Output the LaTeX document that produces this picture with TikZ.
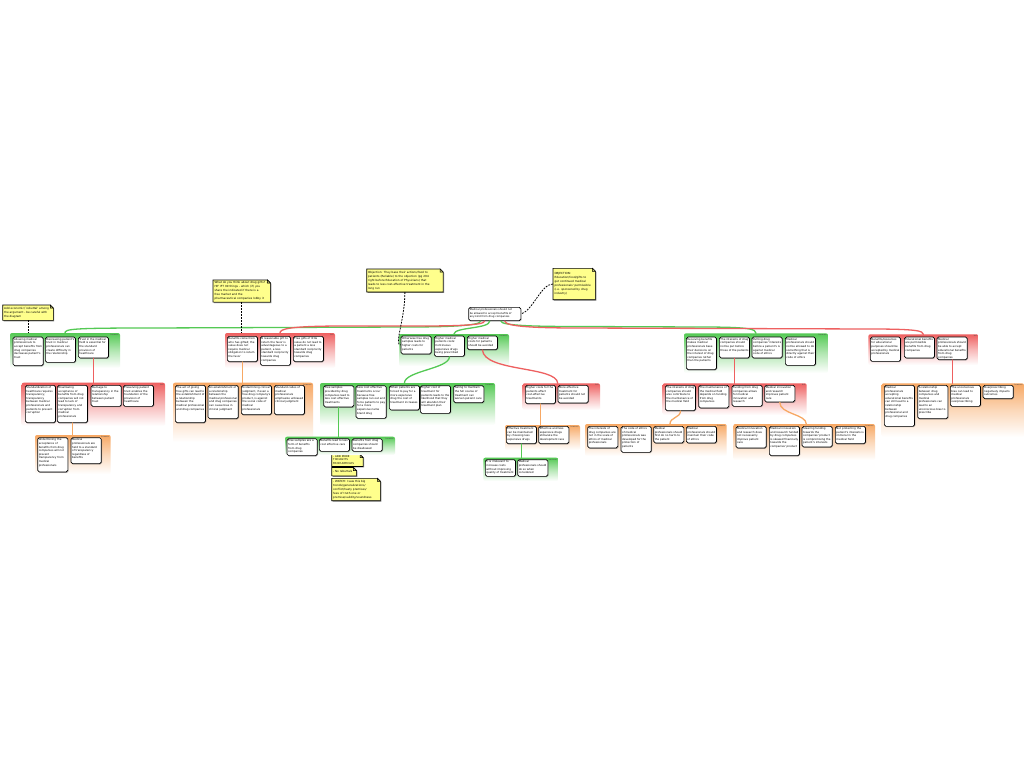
\documentclass[tikz,border=0pt]{standalone}
\usepackage{fontspec}
\newfontfamily\dvs{DejaVu Sans}
\usetikzlibrary{shadows,calc,backgrounds}
\definecolor{rgreen}{RGB}{84,201,84}
\definecolor{rred}{RGB}{238,96,96}
\definecolor{rorange}{RGB}{247,168,100}
\definecolor{notey}{RGB}{255,255,140}
\newcommand\bxfont{\dvs\fontsize{2.7}{3.6}\selectfont}
\newcommand\ntfont{\dvs\fontsize{2.8}{3.95}\selectfont}
\newcommand\lbfont{\dvs\fontsize{1.9}{2.1}\selectfont}
\tikzset{
 box/.style={draw=black, line width=0.7pt, fill=white, rounded corners=1.6pt, inner sep=1.1pt, anchor=north west, font=\bxfont, drop shadow={shadow xshift=0.8pt, shadow yshift=-0.8pt, fill=black!55}},
 grp/.style={rounded corners=2pt, inner sep=0pt, outer sep=0pt, anchor=north west, draw=none},
 glab/.style={font=\lbfont, text=black!70, inner sep=0pt, anchor=north east},
 notetext/.style={inner sep=1.3pt, anchor=north west, align=left, font=\ntfont},
 gline/.style={draw=rgreen, line width=1.3pt, line cap=round},
 rline/.style={draw=rred, line width=1.3pt, line cap=round},
 oline/.style={draw=rorange, line width=1.3pt, line cap=round},
 dline/.style={draw=black, line width=0.8pt, dash pattern=on 1.8pt off 1.2pt},
}
\newcommand\grp[7]{\node[grp, top color=#6, bottom color=white, middle color=#6!45, minimum width={(#4-#2)*1pt}, minimum height={(#5-#3)*1pt}] (#1) at (#2,#3) {};
\node[glab] (#1l) at ([xshift=-1.2pt,yshift=-0.9pt]#1.north east) {#7};}
\newcommand\bx[5]{\node[box] (#1) at (#2,#3) {\parbox[t][\dimexpr#4pt-2.9pt\relax][t]{28pt}{\raggedright #5}};}
\newcommand\nt[6]{%
 \node[notetext, text width=#4pt, minimum height=#5pt] (#1) at (#2,#3) {#6};
 \begin{scope}[on background layer]
  \fill[black!50] ($(#1.north west)+(0.9,0.9)$) -- ($(#1.north east)+(-2.1,0.9)$) -- ($(#1.north east)+(0.9,3.9)$) -- ($(#1.south east)+(0.9,0.9)$) -- ($(#1.south west)+(0.9,0.9)$) -- cycle;
  \filldraw[fill=notey, draw=black, line width=0.6pt] (#1.north west) -- ($(#1.north east)+(-3,0)$) -- ($(#1.north east)+(0,3)$) -- (#1.south east) -- (#1.south west) -- cycle;
  \filldraw[fill=notey!75!black, draw=black, line width=0.5pt] ($(#1.north east)+(-3,0)$) -- ($(#1.north east)+(-3,3)$) -- ($(#1.north east)+(0,3)$) -- cycle;
 \end{scope}}
\begin{document}
\begin{tikzpicture}[x=1pt,y=-1pt]
\begin{scope}[on background layer]
\fill[white] (0,0) rectangle (1024,768);
\end{scope}
\useasboundingbox (0,0) rectangle (1024,768);

% groups
\grp{G1}{10}{333}{120}{368}{rgreen}{because}
\grp{G2}{21.7}{382.7}{165}{426}{rred}{but}
\grp{G3}{35}{435}{110.7}{474}{rorange}{however}
\grp{G4}{225}{333}{335}{368}{rred}{but}
\grp{G5}{173}{382.7}{313}{442}{rorange}{however}
\grp{G6}{320}{383}{495}{425}{rgreen}{because}
\grp{G7}{399}{334}{509}{366}{rgreen}{because}
\grp{G8}{285}{436.7}{395}{455}{rgreen}{because}
\grp{G9}{522.7}{383.3}{600}{410}{rred}{but}
\grp{G10}{505}{425}{580}{450}{rorange}{however}
\grp{G11}{483.3}{457.7}{558.3}{481}{rgreen}{because}
\grp{G12}{684}{333.3}{828}{373}{rgreen}{because}
\grp{G13}{662.7}{383.3}{806.7}{415}{rred}{but}
\grp{G14}{585}{424}{726.7}{456}{rorange}{however}
\grp{G15}{733.3}{424}{875}{460}{rorange}{however}
\grp{G16}{868.3}{334.3}{978.3}{365}{rred}{but}
\grp{G17}{881.7}{383.3}{1024}{437}{rorange}{however}

% root
\node[box] (root) at (468.3,307) {\parbox[t][\dimexpr 14pt-2.9pt\relax][t]{50pt}{\fontsize{2.6}{3.7}\selectfont Medical professionals should not\\ be allowed to accept benefits of\\ any kind from drug companies}};

% boxes
\bx{b1}{12.7}{336.7}{29.3}{Allowing medical professionals to accept benefits from drug companies decreases patient's trust}
\bx{b2}{45}{336.7}{26}{Decreasing patient's trust in medical professionals can create difficulty in the relationship}
\bx{b3}{78}{336.7}{21.6}{Trust in the medical field is essential for the standard provision of healthcare}
\bx{c1}{25}{385}{38}{Standardization of healthcare requires transparency; transparency between medical professionals and patients to prevent corruption}
\bx{c2}{57}{385}{38}{Disallowing acceptance of benefits from drug companies will not lead to lack of transparency and corruption from medical professionals}
\bx{c3}{90.7}{385}{21.7}{Damage to transparency in the relationship between patient trust}
\bx{c4}{123}{385}{21.7}{Preserving patient trust enables the foundation of the provision of healthcare}
\bx{d1}{37.3}{437.3}{35}{Undermining the acceptance of benefits from drug companies will not prevent transparency from medical professionals}
\bx{d2}{70.7}{437.3}{26.7}{Medical professionals are held to a standard of transparency regardless of benefits}
\bx{e1}{227}{336}{26}{Benefits come from who has gifted; the value does not require medical obligation to return the favor}
\bx{e2}{260}{336}{29.7}{A reasonable gift to return the favor is advantageous to a patient, a less standard reciprocity towards drug companies}
\bx{e3}{293}{336}{26}{Free gifts of little value do not lead to a patient a less standard reciprocity towards drug companies}
\bx{f1}{175}{385}{38}{The act of giving free gifts can lead to the establishment of a relationship between the medical professional and drug companies}
\bx{f2}{207.7}{385}{34}{An establishment of a relationship between the medical professional and drug companies can cause bias in clinical judgment}
\bx{f3}{241}{385}{30}{Undermining clinical judgment, if even a free drug company's product, is against the social code of medical professionals}
\bx{f4}{274}{385}{30}{Standard codes of medical professionals emphasize unbiased clinical judgment}
\bx{g1}{323.3}{385.3}{22}{Free samples provided by drug companies lead to less cost effective treatments}
\bx{g2}{355.7}{385.3}{33.4}{Less cost effective treatments occur because free samples run out and force patients to pay for a more expensive name brand drug}
\bx{g3}{389}{385.3}{25}{When patients are forced to pay for a more expensive drug the cost of treatment increases}
\bx{g4}{420}{385.3}{28.4}{Higher cost of treatment for patients leads to the likelihood that they will abandon their treatment plan}
\bx{g5}{453.3}{385.3}{17.7}{Failing to maintain the full course of treatment can worsen patient care}
\bx{h1}{400.7}{335.7}{18.6}{Otherwise free drug samples leads to higher costs for patients}
\bx{h2}{434}{335.7}{21}{Higher medical patients costs: Continuous expensive drugs being prescribed}
\bx{h3}{467}{335.7}{14.3}{Higher medical costs for patients should be avoided}
\bx{i1}{286.7}{438.3}{17.7}{Free samples are a form of benefits from drug companies}
\bx{i2}{319}{438.3}{13.4}{Benefits lead to less cost effective care}
\bx{i3}{351.7}{438.3}{13.4}{Benefits from drug companies should be disallowed}
\bx{j1}{525}{385}{19}{Higher costs for the patients affect cost-effective treatments}
\bx{j2}{557.7}{385}{18.3}{More effective treatment for patients should not be avoided}
\bx{k1}{506}{426}{18}{Effective treatment can be maintained by choosing less expensive drugs}
\bx{k2}{538.3}{426}{18}{Effective and less expensive drugs stimulate the development race}
\bx{l1}{485}{459.3}{17.4}{It is irrelevant to increase costs without improving quality of treatment}
\bx{l2}{517.3}{459.3}{17.4}{Medical professionals should do so when considered}
\bx{m1}{686}{336.7}{33.3}{Receiving benefits makes medical professionals base their decisions on the interest of drug companies rather than the patients}
\bx{m2}{719}{336.7}{21.6}{The interests of drug companies should not be put before those of the patients}
\bx{m3}{751.7}{336.7}{21.6}{Putting drug companies' interests before a patient's is against medical code of ethics}
\bx{m4}{785}{336.7}{29}{Medical professionals should not be allowed to do something that is directly against their code of ethics}
\bx{o1}{665}{385}{26}{The interests of drug companies should also contribute to the maintenance of the medical field}
\bx{o2}{698.3}{385}{23.3}{The maintenance of the medical field depends on funding from drug companies}
\bx{o3}{731.7}{385}{21.7}{Funding from drug companies allows for medical innovation and research}
\bx{o4}{764.3}{385}{17.3}{Medical innovation and research improves patient care}
\bx{p1}{587.3}{426}{22.3}{The interests of drug companies are not in the scale of ethics of medical professionals}
\bx{p2}{620.7}{426}{26.7}{The code of ethics of medical professionals was developed for the protection of patients}
\bx{p3}{653.3}{426}{17.3}{Medical professionals should first do no harm to the patient}
\bx{p4}{686}{426}{17.3}{Medical professionals should maintain their code of ethics}
\bx{q1}{735.7}{426}{22.3}{Medical innovation and research does not necessarily improve patient care}
\bx{q2}{769}{426}{30}{Medical innovation and research funded by drug companies is skewed financially towards the companies' product}
\bx{q3}{801.7}{426}{21.3}{Steering funding towards the companies' product is compromising the patient's interests}
\bx{q4}{835}{426}{18}{Not protecting the patient's interests is immoral in the medical field}
\bx{r1}{870}{336.7}{25}{Benefits/resources for educational purposes should be accepted by medical professionals}
\bx{r2}{904}{336.7}{21.6}{Educational benefits are permissible benefits from drug companies}
\bx{r3}{936.7}{336.7}{23.3}{Medical professionals should be able to accept educational benefits from drug companies}
\bx{s1}{884}{385}{41.7}{Medical professionals accepting educational benefits can still lead to a relationship between professional and drug companies}
\bx{s2}{917.3}{385}{34}{A relationship between drug companies and medical professionals can lead to an unconscious bias to prescribe}
\bx{s3}{950}{385}{21.7}{The unconscious bias can lead to medical professionals overprescribing}
\bx{s4}{982.7}{385}{14}{Overprescribing negatively impacts outcomes}

% notes
\nt{N1}{2.7}{305}{47.6}{15}{Add economic/`rebuttal' among the argument - be careful with the diagram}
\nt{N2}{213}{280}{54.4}{21.7}{What do you think about drug gifts? -\\ HIF IFT 99 things - which (if) you\\ share the indicated if there is a\\ free market and the\\ pharmaceutical companies lobby it}
\nt{N3}{366.7}{269}{73.4}{22.6}{Objection: They base their actions/food to\\ patients (Reliable) to the objection (pg 294\\ right before Education of Physicians) that\\ leads to less cost-effective treatment in the\\ long run}
\nt{N4}{553}{268.3}{39.4}{31}{OBJECTION:\\ Education/food/gifts to\\ get continued medical\\ professionals' permissible\\ (i.e. sponsored by drug\\ industry)\\ }
\nt{n5}{331.7}{454.5}{28.4}{11}{\fontsize{2.6}{3.05}\selectfont - ADD MORE\\ THOUGHTS\\ FROM ARTICLES}
\nt{n6}{331.7}{467.5}{21.7}{8}{- No rebuttals}
\nt{n7}{331.7}{478.3}{45.7}{22}{- WATCH: I saw this big\\ trends/generalizations/\\ conflict/hasty premises/\\ fees of truth one or\\ premise/validity/soundness}

% connectors from root
\draw[gline] ([xshift=-14pt]root.south) .. controls +(0,5) and (445,327) .. (405,327) -- (150,328) .. controls (72,328) and (65,329) .. (G1.north);
\draw[rline] ([xshift=-10pt]root.south) .. controls +(0,5) and (445,326) .. (410,326) -- (345,326) .. controls (288,326) and (280,329) .. (G4.north);
\draw[gline] ([xshift=-5pt]root.south) .. controls +(0,8) and +(0,-7) .. (G7.north);
\draw[gline] ([xshift=6pt]root.south) .. controls +(0,5) and (540,326.5) .. (580,326.5) -- (700,327) .. controls (750,327) and (756,329) .. (G12.north);
\draw[rline] ([xshift=10pt]root.south) .. controls +(0,6) and (540,328) .. (580,328) -- (870,329) .. controls (918,329) and (923,331) .. (G16.north);

% sub-connectors
\draw[rline] (b3.south) -- (b3.south |- G2.north);
\draw[oline] (c2.south) -- (c2.south |- G3.north);
\draw[oline] (e1.south) -- (e1.south |- G5.north);
\draw[gline] (g1.south) -- (g1.south |- G8.north);
\draw[gline] (h2.south) .. controls +(0,12) and +(0,-12) .. (g3.north |- G6.north);
\draw[rline] (h3.south) .. controls (484,372) and (557,366) .. (j2.north west |- G9.north);
\draw[oline] (j1.south) -- (j1.south |- G10.north);
\draw[gline] (k1.south) -- (k1.south |- G11.north);
\draw[rline] (m2.south) -- (m2.south |- G13.north);
\draw[oline] (o1.south) .. controls +(0,7) and +(0,-7) .. ($(G14.north west)+(85,0)$);
\draw[oline] (o4.south) .. controls +(0,12) and +(0,-10) .. ($(G15.north west)+(73,0)$);
\draw[rline] (r3.south) -- (r3.south |- G17.north);

% dashed note links
\draw[dline] (N1.south) -- (N1.south |- G1.north);
\draw[dline] (N2.south) -- (N2.south |- G4.north);
\draw[dline] (N3.south) .. controls +(0,28) and +(-7,0) .. (h1.west);
\draw[dline] (N4.west) .. controls +(-12,0) and +(12,-4) .. (root.east);
\end{tikzpicture}
\end{document}
